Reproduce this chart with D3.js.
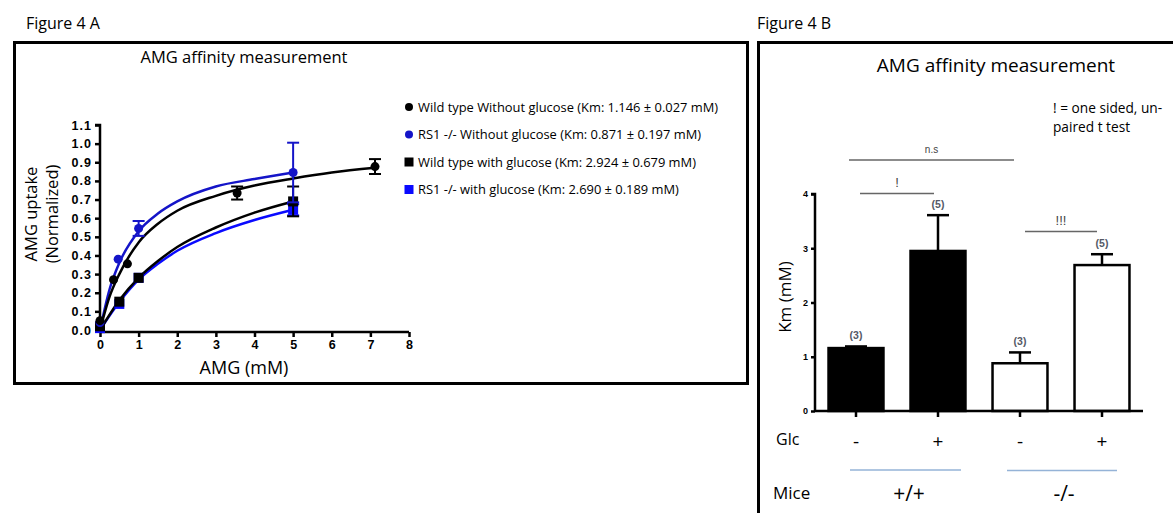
<!DOCTYPE html>
<html>
<head>
<meta charset="utf-8">
<title>AMG affinity measurement</title>
<script src="https://cdn.jsdelivr.net/npm/d3@7"></script>
<style>
  body { margin: 0; background: #fff; }
</style>
</head>
<body>
<div class="chart-area"></div>
<script>
// ---- Figure 4 A : uptake vs AMG concentration ----
var seriesNames = [
  "Wild type Without glucose (Km: 1.146 \u00b1 0.027  mM)",
  "RS1 -/- Without glucose (Km: 0.871 \u00b1 0.197  mM)",
  "Wild type with glucose (Km: 2.924 \u00b1 0.679  mM)",
  "RS1 -/- with glucose (Km: 2.690 \u00b1 0.189  mM)"
];
// measured points [x, y, err]
var wtNoGlc  = [[0, 0.05, 0], [0.35, 0.27, 0], [0.71, 0.355, 0], [3.55, 0.735, 0.035], [7.12, 0.877, 0.04]];
var rsNoGlc  = [[0, 0.04, 0], [0.47, 0.38, 0], [1, 0.545, 0.04], [5, 0.845, 0.16]];
var wtGlc    = [[0, 0.02, 0], [0.5, 0.152, 0], [1, 0.28, 0], [5, 0.69, 0.08]];
var rsGlc    = [[0, 0.01, 0], [0.5, 0.14, 0], [1, 0.28, 0], [5, 0.645, 0.03]];
// fitted curves
var wtNoGlcFit = [[0, 0], [0.25, 0.18], [0.5, 0.30], [1, 0.47], [1.5, 0.57], [2, 0.64], [3, 0.72], [4, 0.775], [5, 0.813], [6, 0.845], [7.12, 0.87]];
var rsNoGlcFit = [[0, 0], [0.25, 0.22], [0.5, 0.36], [1, 0.53], [1.5, 0.625], [2, 0.69], [3, 0.77], [4, 0.81], [5, 0.845]];
var wtGlcFit   = [[0, 0], [0.5, 0.16], [1, 0.28], [1.5, 0.37], [2, 0.445], [3, 0.55], [4, 0.63], [5, 0.69]];
var rsGlcFit   = [[0, 0], [0.5, 0.15], [1, 0.27], [1.5, 0.355], [2, 0.425], [3, 0.52], [4, 0.59], [5, 0.645]];
var xTicksA = [0, 1, 2, 3, 4, 5, 6, 7, 8];
var yTicksA = [0, 0.1, 0.2, 0.3, 0.4, 0.5, 0.6, 0.7, 0.8, 0.9, 1.0, 1.1];

// ---- Figure 4 B : Km bars ----
var groups = ["wt-", "wt+", "ko-", "ko+"];
var kmValues = [1.16, 2.95, 0.88, 2.69];
var kmErrors = [0.03, 0.66, 0.20, 0.20];
var nLabels = ["(3)", "(5)", "(3)", "(5)"];
var glcLabels = ["-", "+", "-", "+"];
var yTicksB = [0, 1, 2, 3, 4];

var W = 1173, H = 513;
var ARIAL = "Liberation Sans, Arial, sans-serif";
var svg = d3.select(".chart-area").append("svg")
  .attr("width", W).attr("height", H)
  .attr("font-family", "Open Sans, DejaVu Sans, sans-serif");

// ================= panel A =================
svg.append("text").attr("x", 26).attr("y", 29).attr("font-size", 16).text("Figure 4 A");
svg.append("rect").attr("x", 14.5).attr("y", 42.5).attr("width", 733).attr("height", 341)
  .attr("fill", "none").attr("stroke", "#000").attr("stroke-width", 3);
svg.append("text").attr("x", 244).attr("y", 63).attr("text-anchor", "middle")
  .attr("font-size", 16.5).text("AMG affinity measurement");

var xA = d3.scaleLinear().domain([0, 8]).range([100, 409]);
var yA = d3.scaleLinear().domain([0, 1.1]).range([330, 125]);

function styleTicks(g, fs, ls) {
  g.attr("font-family", ARIAL);
  g.selectAll("text").attr("font-size", fs).attr("fill", "#000").attr("font-weight", "bold")
    .attr("letter-spacing", ls || 0);
  g.selectAll("path, line").attr("stroke", "#000").attr("stroke-width", 2.5);
}

var gA = svg.append("g");
gA.append("g").attr("transform", "translate(0,332)")
  .call(d3.axisBottom(xA).tickValues(xTicksA).tickSize(5).tickPadding(3).tickFormat(d3.format("d")))
  .call(function (g) { styleTicks(g, 12.5); g.select(".domain").attr("d", "M100,0H409"); });
gA.append("g").attr("transform", "translate(100,0)")
  .call(d3.axisLeft(yA).tickValues(yTicksA).tickSize(5).tickPadding(3).tickFormat(d3.format(".1f")))
  .call(function (g) { styleTicks(g, 12.5, 1); g.select(".domain").attr("d", "M-5,125H0V332"); });

gA.append("text").attr("x", 244).attr("y", 374).attr("text-anchor", "middle")
  .attr("font-size", 18).text("AMG (mM)");
gA.append("text").attr("transform", "translate(37,214) rotate(-90)").attr("text-anchor", "middle")
  .attr("font-size", 16.5).text("AMG uptake");
gA.append("text").attr("transform", "translate(58,214) rotate(-90)").attr("text-anchor", "middle")
  .attr("font-size", 16.5).text("(Normalized)");

var line = d3.line().x(function (d) { return xA(d[0]); }).y(function (d) { return yA(d[1]); })
  .curve(d3.curveMonotoneX);

var seriesA = [
  { pts: wtNoGlc, fit: wtNoGlcFit, color: "#000", shape: "circle" },
  { pts: rsNoGlc, fit: rsNoGlcFit, color: "#1414c8", shape: "circle" },
  { pts: wtGlc, fit: wtGlcFit, color: "#000", shape: "square" },
  { pts: rsGlc, fit: rsGlcFit, color: "#0a0aff", shape: "square" }
];
// draw order: lower blue behind black
[3, 2, 1, 0].forEach(function (i) {
  var s = seriesA[i];
  gA.append("path").datum(s.fit).attr("d", line)
    .attr("fill", "none").attr("stroke", s.color).attr("stroke-width", 2.5);
});
[3, 2, 1, 0].forEach(function (i) {
  var s = seriesA[i];
  var g = gA.append("g").attr("stroke", s.color).attr("fill", s.color);
  s.pts.filter(function (d) { return d[2] > 0; }).forEach(function (d) {
    var cx = xA(d[0]);
    g.append("line").attr("x1", cx).attr("x2", cx).attr("y1", yA(d[1] - d[2])).attr("y2", yA(d[1] + d[2])).attr("stroke-width", 2);
    [d[1] - d[2], d[1] + d[2]].forEach(function (v) {
      g.append("line").attr("x1", cx - 6).attr("x2", cx + 6).attr("y1", yA(v)).attr("y2", yA(v)).attr("stroke-width", 2);
    });
  });
  if (s.shape === "circle") {
    g.selectAll("circle").data(s.pts).enter().append("circle")
      .attr("cx", function (d) { return xA(d[0]); }).attr("cy", function (d) { return yA(d[1]); })
      .attr("r", 4.5).attr("stroke", "none");
  } else {
    g.selectAll("rect").data(s.pts).enter().append("rect")
      .attr("x", function (d) { return xA(d[0]) - 5; }).attr("y", function (d) { return yA(d[1]) - 5; })
      .attr("width", 10).attr("height", 10).attr("stroke", "none");
  }
});

// legend A
var leg = gA.append("g");
seriesNames.forEach(function (name, i) {
  var y = 107 + i * 27.5;
  if (seriesA[i].shape === "circle") {
    leg.append("circle").attr("cx", 409).attr("cy", y).attr("r", 4).attr("fill", seriesA[i].color);
  } else {
    leg.append("rect").attr("x", 404.5).attr("y", y - 4.5).attr("width", 9).attr("height", 9).attr("fill", seriesA[i].color);
  }
  leg.append("text").attr("x", 418).attr("y", y + 4.5).attr("font-size", 12.9).text(name);
});

// ================= panel B =================
svg.append("text").attr("x", 757).attr("y", 29).attr("font-size", 16).text("Figure 4 B");
svg.append("rect").attr("x", 758.5).attr("y", 42.5).attr("width", 440).attr("height", 500)
  .attr("fill", "none").attr("stroke", "#000").attr("stroke-width", 3);
svg.append("text").attr("x", 996).attr("y", 72).attr("text-anchor", "middle")
  .attr("font-size", 19).text("AMG affinity measurement");
svg.append("text").attr("x", 1053).attr("y", 113).attr("font-size", 13.7).text("! = one sided, un-");
svg.append("text").attr("x", 1053).attr("y", 132).attr("font-size", 13.7).text("paired t test");

var xB = d3.scaleBand().domain(groups).range([815, 1143]).paddingInner(0.33).paddingOuter(0.165);
var yB = d3.scaleLinear().domain([0, 4]).range([411, 194]);

var gB = svg.append("g");
// bars
gB.selectAll("rect.bar").data(groups).enter().append("rect").attr("class", "bar")
  .attr("x", function (d) { return xB(d); })
  .attr("y", function (d, i) { return yB(kmValues[i]); })
  .attr("width", xB.bandwidth())
  .attr("height", function (d, i) { return yB(0) - yB(kmValues[i]); })
  .attr("fill", function (d, i) { return i < 2 ? "#000" : "#fff"; })
  .attr("stroke", "#000").attr("stroke-width", 2.5);
// error bars (upper only)
groups.forEach(function (d, i) {
  var cx = xB(d) + xB.bandwidth() / 2;
  var top = yB(kmValues[i] + kmErrors[i]);
  gB.append("line").attr("x1", cx).attr("x2", cx).attr("y1", yB(kmValues[i])).attr("y2", top)
    .attr("stroke", "#000").attr("stroke-width", 2.5);
  gB.append("line").attr("x1", cx - 11).attr("x2", cx + 11).attr("y1", top).attr("y2", top)
    .attr("stroke", "#000").attr("stroke-width", 2.5);
  gB.append("text").attr("x", cx).attr("y", top - 7).attr("text-anchor", "middle")
    .attr("font-size", 10.5).attr("font-weight", "bold").attr("fill", "#555a66")
    .attr("font-family", ARIAL).text(nLabels[i]);
});

// axes
gB.append("g").attr("transform", "translate(815,0)")
  .call(d3.axisLeft(yB).tickValues(yTicksB).tickSize(4).tickPadding(3).tickFormat(d3.format("d")))
  .call(function (g) { styleTicks(g, 9); g.select(".domain").attr("d", "M-4,194H0V411"); });
gB.append("g").attr("transform", "translate(0,411)")
  .call(d3.axisBottom(xB).tickSize(6).tickFormat(""))
  .call(function (g) { styleTicks(g, 9); g.select(".domain").attr("d", "M815,0H1143"); });

gB.append("text").attr("transform", "translate(791,297) rotate(-90)").attr("text-anchor", "middle")
  .attr("font-size", 17).text("Km (mM)");

// significance brackets
function sig(x1, x2, y, label, fs) {
  gB.append("line").attr("x1", x1).attr("x2", x2).attr("y1", y).attr("y2", y)
    .attr("stroke", "#666").attr("stroke-width", 1.3);
  gB.append("text").attr("x", (x1 + x2) / 2).attr("y", y - 7).attr("text-anchor", "middle")
    .attr("font-size", fs).attr("fill", "#444").attr("font-family", ARIAL).text(label);
}
sig(849, 1014, 160, "n.s", 10);
sig(860, 934, 193.5, "!", 13);
sig(1025, 1097, 231.5, "!!!", 13);

// category rows
svg.append("text").attr("x", 776).attr("y", 445).attr("font-size", 16).text("Glc");
groups.forEach(function (d, i) {
  svg.append("text").attr("x", xB(d) + xB.bandwidth() / 2).attr("y", 448)
    .attr("text-anchor", "middle").attr("font-size", 19).text(glcLabels[i]);
});
svg.append("line").attr("x1", 850).attr("x2", 961).attr("y1", 470).attr("y2", 470)
  .attr("stroke", "#95b3d7").attr("stroke-width", 1.5);
svg.append("line").attr("x1", 1007).attr("x2", 1117).attr("y1", 470.5).attr("y2", 470.5)
  .attr("stroke", "#95b3d7").attr("stroke-width", 1.5);
svg.append("text").attr("x", 773).attr("y", 499).attr("font-size", 17).text("Mice");
svg.append("text").attr("x", 909).attr("y", 501).attr("text-anchor", "middle").attr("font-size", 21).text("+/+");
svg.append("text").attr("x", 1064).attr("y", 501).attr("text-anchor", "middle").attr("font-size", 21).text("-/-");
</script>
</body>
</html>
